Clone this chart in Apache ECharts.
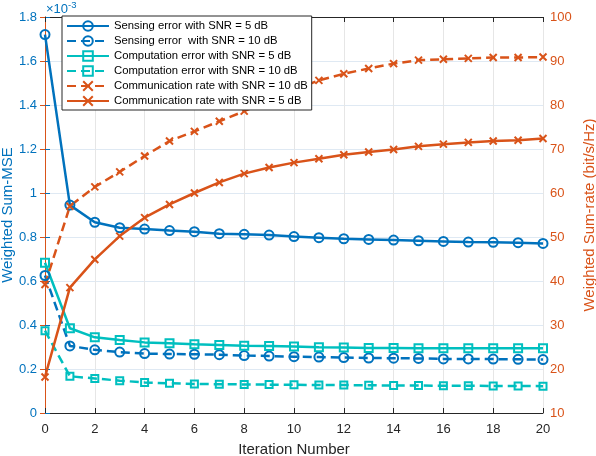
<!DOCTYPE html>
<html>
<head>
<meta charset="utf-8">
<script src="https://cdn.jsdelivr.net/npm/echarts@6/dist/echarts.min.js"></script>
<style>html,body{margin:0;padding:0;background:#fff}#c{width:596px;height:456px}</style>
</head>
<body>
<div id="c"></div>
<script>
// Iteration index
const iterations = [0,1,2,3,4,5,6,7,8,9,10,11,12,13,14,15,16,17,18,19,20];
// Weighted Sum-MSE values (in units of 1e-3)
const sensing5  = [1.72,0.945,0.867,0.842,0.836,0.829,0.824,0.815,0.812,0.809,0.802,0.797,0.792,0.789,0.786,0.783,0.780,0.777,0.776,0.774,0.771];
const sensing10 = [0.625,0.305,0.287,0.277,0.270,0.268,0.267,0.265,0.261,0.259,0.256,0.254,0.252,0.250,0.249,0.248,0.246,0.246,0.245,0.244,0.243];
const comp5     = [0.683,0.385,0.344,0.332,0.321,0.317,0.312,0.309,0.306,0.305,0.302,0.299,0.298,0.296,0.295,0.294,0.294,0.294,0.294,0.294,0.294];
const comp10    = [0.374,0.167,0.157,0.147,0.139,0.135,0.132,0.131,0.130,0.129,0.128,0.127,0.127,0.126,0.125,0.125,0.124,0.124,0.123,0.123,0.122];
// Weighted Sum-rate values (bit/s/Hz)
const rate10 = [39.2,57.0,61.4,64.8,68.4,71.8,74.0,76.3,78.6,81.0,83.4,85.6,87.1,88.3,89.4,90.2,90.4,90.6,90.8,90.8,90.9];
const rate5  = [18.2,38.5,44.9,50.2,54.4,57.4,60.0,62.4,64.4,65.8,66.9,67.8,68.7,69.3,69.9,70.6,71.1,71.5,71.8,72.0,72.4];
// Tick settings
const xTicks = {min:0, max:20, interval:2};
const leftTicks = {min:0, max:1.8, interval:0.2};
const rightTicks = {min:10, max:100, interval:10};
const names = [
  'Sensing error with SNR = 5 dB',
  'Sensing error  with SNR = 10 dB',
  'Computation error with SNR = 5 dB',
  'Computation error with SNR = 10 dB',
  'Communication rate with SNR = 10 dB',
  'Communication rate with SNR = 5 dB'
];

const BLUE = '#0072BD', CYAN = '#00BFBF', ORANGE = '#D95319', DARK = '#262626';
const FONT = '"Liberation Sans", Arial, Helvetica, sans-serif';
const pairs = arr => iterations.map((x, i) => [x, arr[i]]);
const XSYM = 'path://M0,0L10,10M10,0L0,10';

function mk(name, data, yIdx, color, dashed, symbol, size) {
  return {
    name: name, type: 'line', data: pairs(data), yAxisIndex: yIdx,
    symbol: symbol, symbolSize: size, showSymbol: true, animation: false,
    lineStyle: {color: color, width: 2.5, type: dashed ? [9, 5] : 'solid'},
    itemStyle: {color: 'rgba(255,255,255,0)', borderColor: color, borderWidth: 2},
    emphasis: {disabled: true}
  };
}

const chart = echarts.init(document.getElementById('c'), null, {renderer: 'canvas'});
chart.setOption({
  backgroundColor: '#fff',
  textStyle: {fontFamily: FONT},
  grid: {left: 45, right: 53, top: 17, bottom: 43, containLabel: false, outerBoundsMode: 'none'},
  legend: {
    orient: 'vertical', left: 62, top: 16,
    padding: [4, 4, 3, 4], itemGap: 3, itemWidth: 42, itemHeight: 12,
    backgroundColor: '#fff', borderColor: DARK, borderWidth: 1,
    textStyle: {fontFamily: FONT, fontSize: 11.3, color: '#000', lineHeight: 12},
    data: names
  },
  xAxis: [{
    type: 'value', min: xTicks.min, max: xTicks.max, interval: xTicks.interval,
    name: 'Iteration Number', nameLocation: 'middle', nameGap: 29, nameMoveOverlap: false,
    nameTextStyle: {fontFamily: FONT, fontSize: 15, color: DARK},
    axisLine: {show: true, lineStyle: {color: DARK, width: 1}},
    axisTick: {show: true, inside: true, length: 5, lineStyle: {color: DARK}},
    axisLabel: {fontFamily: FONT, fontSize: 13, color: DARK, margin: 10},
    splitLine: {show: true, lineStyle: {color: '#e6e6e6', width: 1}}
  }, {
    type: 'value', position: 'top', min: xTicks.min, max: xTicks.max, interval: xTicks.interval,
    axisLine: {show: true, onZero: false, lineStyle: {color: DARK, width: 1}},
    axisTick: {show: true, inside: true, length: 5, lineStyle: {color: DARK}},
    axisLabel: {show: false}, splitLine: {show: false}
  }],
  yAxis: [{
    type: 'value', position: 'left', min: leftTicks.min, max: leftTicks.max, interval: leftTicks.interval,
    name: 'Weighted Sum-MSE', nameLocation: 'middle', nameGap: 30, nameMoveOverlap: false,
    nameTextStyle: {fontFamily: FONT, fontSize: 15, color: BLUE},
    axisLine: {show: true, lineStyle: {color: BLUE, width: 1}},
    axisTick: {show: true, inside: true, length: 5, lineStyle: {color: BLUE}},
    axisLabel: {fontFamily: FONT, fontSize: 13, color: BLUE, margin: 8,
      formatter: v => String(Math.round(v * 10) / 10)},
    splitLine: {show: true, lineStyle: {color: '#dfe9f3', width: 1}}
  }, {
    type: 'value', position: 'right', min: rightTicks.min, max: rightTicks.max, interval: rightTicks.interval,
    name: 'Weighted Sum-rate (bit/s/Hz)', nameLocation: 'middle', nameGap: 39, nameMoveOverlap: false,
    nameTextStyle: {fontFamily: FONT, fontSize: 15, color: ORANGE},
    axisLine: {show: true, lineStyle: {color: ORANGE, width: 1}},
    axisTick: {show: true, inside: true, length: 5, lineStyle: {color: ORANGE}},
    axisLabel: {fontFamily: FONT, fontSize: 13, color: ORANGE, margin: 7},
    splitLine: {show: false}
  }],
  graphic: [{
    type: 'text', left: 46, top: 0, z: 10,
    style: {
      text: '{a|×10}{b|-3}',
      rich: {
        a: {fontFamily: FONT, fontSize: 13, fill: BLUE, verticalAlign: 'bottom'},
        b: {fontFamily: FONT, fontSize: 9.5, fill: BLUE, verticalAlign: 'top', padding: [0, 0, 6, 0]}
      }
    }
  }],
  series: [
    mk(names[0], sensing5, 0, BLUE, false, 'circle', 9),
    mk(names[1], sensing10, 0, BLUE, true, 'circle', 9),
    mk(names[2], comp5, 0, CYAN, false, 'rect', 8),
    mk(names[3], comp10, 0, CYAN, true, 'rect', 7),
    mk(names[4], rate10, 1, ORANGE, true, XSYM, 7),
    mk(names[5], rate5, 1, ORANGE, false, XSYM, 7)
  ]
});
</script>
</body>
</html>
